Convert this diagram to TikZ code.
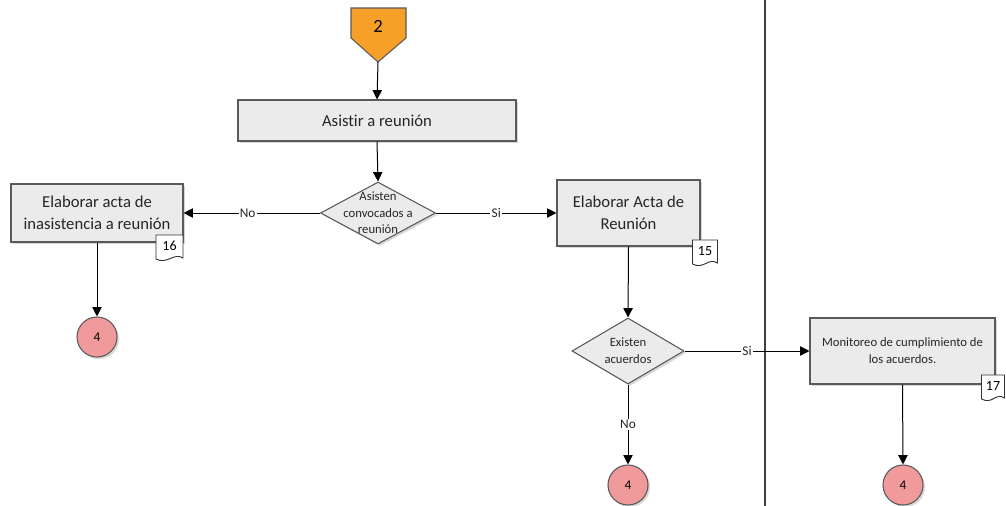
\documentclass[tikz,border=0pt]{standalone}
\usepackage{fontspec}
\setmainfont[Ligatures={NoCommon}]{Carlito}
\usetikzlibrary{arrows.meta,shapes.geometric,shadows}
\definecolor{boxfill}{HTML}{EBEBEB}
\definecolor{boxline}{HTML}{5A5A5A}
\definecolor{connfill}{HTML}{F09A9C}
\definecolor{offfill}{HTML}{F7A027}
\definecolor{inktext}{HTML}{262626}
\begin{document}
\begin{tikzpicture}[x=0.75pt,y=-0.75pt,
  shade/.style={drop shadow={shadow xshift=1.5pt,shadow yshift=-1.5pt,fill=black!35,opacity=0.45}},
  procbox/.style={rectangle,draw=boxline,line width=0.8pt,fill=boxfill,shade,text=inktext,
    align=center,inner sep=2pt,font=\fontsize{12.5}{16.5}\selectfont},
  decision/.style={diamond,draw=boxline,line width=0.8pt,fill=boxfill,shade,inner sep=0pt},
  dtext/.style={align=center,inner sep=0pt,text=inktext,font=\fontsize{9.5}{12.5}\selectfont},
  endpoint/.style={circle,draw=boxline,line width=0.8pt,fill=connfill,shade,
    minimum size=30pt,inner sep=0pt,font=\fontsize{10}{12}\selectfont},
  flow/.style={draw=black,line width=0.75pt,-{Triangle[length=7pt,width=7pt]}},
  elabel/.style={fill=white,inner sep=1pt,text=inktext,font=\fontsize{10}{12}\selectfont},
  tagnum/.style={font=\fontsize{10.5}{12}\selectfont,inner sep=0pt}]
\useasboundingbox (0,0) rectangle (1006,506);

% lane divider
\draw[line width=1.5pt,black!75] (765,0) -- (765,506);

% off-page connector 2
\draw[draw=boxline,line width=0.8pt,fill=offfill]
  (351,8) -- (406,8) -- (406,38) -- (378,62) -- (351,38) -- cycle;
\node[font=\fontsize{14}{16}\selectfont,inner sep=0pt] (off2) at (378,26) {2};
\coordinate (off2tip) at (378,62);

% process boxes
\node[procbox,minimum width=208.5pt,minimum height=30.75pt] (asistir) at (377,120.5) {Asistir a reunión};
\node[procbox,minimum width=129pt,minimum height=43.5pt] (inasist) at (97,213) {Elaborar acta de\\inasistencia a reunión};
\node[procbox,minimum width=107.25pt,minimum height=49.5pt] (acta) at (628.5,213) {Elaborar Acta de\\Reunión};
\node[procbox,minimum width=138.75pt,minimum height=49.5pt,font=\fontsize{9.5}{12.75}\selectfont] (monit) at (902.5,351) {Monitoreo de cumplimiento de\\los acuerdos.};

% decisions
\node[decision,minimum width=86.25pt,minimum height=46.5pt] (asisten) at (378,213) {};
\node[dtext] at (asisten.center) {Asisten\\convocados a\\reunión};
\node[decision,minimum width=84pt,minimum height=49.5pt] (existen) at (628,351) {};
\node[dtext] at (existen.center) {Existen\\acuerdos};

% connectors to page 4
\node[endpoint] (e1) at (97,337) {4};
\node[endpoint] (e2) at (628,485) {4};
\node[endpoint] (e3) at (903,485) {4};

% document tags: left, top, right, bottom, number
\newcommand{\doctag}[5]{%
  \draw[draw=black!80,line width=0.7pt,fill=white]
    (#1,#2) -- (#3,#2) -- (#3,#4-3)
    .. controls (#3-9,#4-9) and (#1+11,#4+4) .. (#1,#4-2) -- cycle;
  \node[tagnum] at ({(#1+#3)/2},{#2+11}) {#5};}
\doctag{156}{235}{183}{261}{16}
\doctag{692.5}{240}{717.5}{266}{15}
\doctag{981.5}{375}{1004.5}{401}{17}

% flow
\draw[flow] (off2tip) -- (asistir.north);
\draw[flow] (asistir.south) -- (asisten.north);
\draw[flow] (asisten.west) -- node[elabel,pos=0.53] {No} (inasist.east);
\draw[flow] (asisten.east) -- node[elabel,pos=0.5] {Si} (acta.west);
\draw[flow] (inasist.south) -- (e1.north);
\draw[flow] (acta.south) -- (existen.north);
\draw[flow] (existen.south) -- node[elabel,pos=0.5] {No} (e2.north);
\draw[flow] (existen.east) -- node[elabel,pos=0.5] {Si} (monit.west);
\draw[flow] (monit.south) -- (e3.north);
\end{tikzpicture}
\end{document}
